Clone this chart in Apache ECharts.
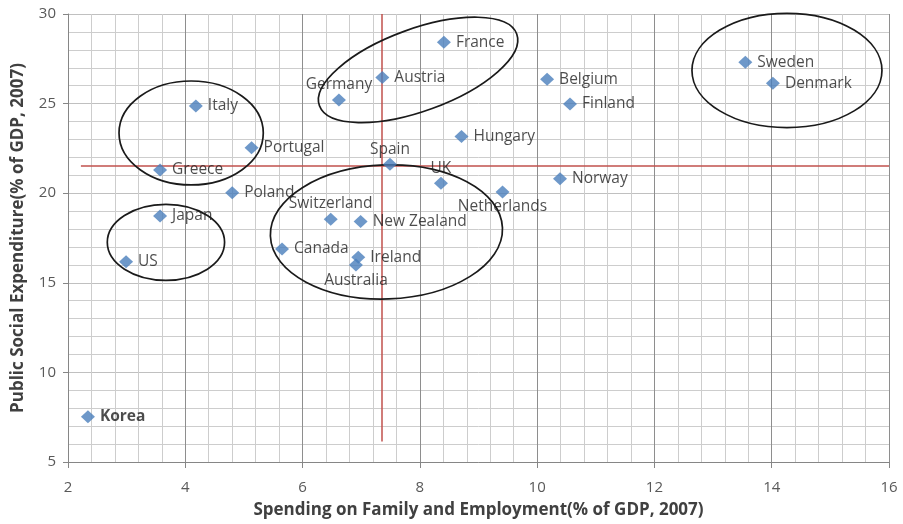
<!DOCTYPE html>
<html>
<head>
<meta charset="utf-8">
<script src="https://cdn.jsdelivr.net/npm/echarts@6/dist/echarts.min.js"></script>
<style>
html,body{margin:0;padding:0;background:#fff;}
#chart{width:903px;height:524px;}
</style>
</head>
<body>
<div id="chart"></div>
<script>
// ---- Data ----
const countries = ['Korea','US','Japan','Greece','Italy','Portugal','Poland','Germany','Austria','France','Belgium','Finland','Hungary','Spain','UK','Netherlands','Norway','Sweden','Denmark','Switzerland','New Zealand','Ireland','Australia','Canada'];
const familySpending = [2.34,2.99,3.57,3.57,4.18,5.13,4.80,6.62,7.36,8.41,10.17,10.56,8.71,7.49,8.36,9.41,10.39,13.55,14.02,6.48,6.99,6.95,6.91,5.65];
const socialExpenditure = [7.52,16.17,18.73,21.30,24.87,22.54,20.03,25.20,26.45,28.42,26.36,24.98,23.16,21.62,20.56,20.06,20.80,27.31,26.13,18.55,18.42,16.43,16.00,16.89];
const xTicks = [2,4,6,8,10,12,14,16];
const yTicks = [5,10,15,20,25,30];
// reference (average) lines
const refX = 7.35, refXFrom = 30, refXTo = 6.15;
const refY = 21.54, refYFrom = 2.22, refYTo = 16;
// ellipses: centre x, centre y, radius (x units), radius (y units), rotation deg
const ellipseCx = [4.10, 3.67, 7.97, 7.43, 14.26];
const ellipseCy = [23.36, 17.26, 26.88, 17.84, 26.85];
const ellipseRx = [1.23, 1.00, 1.79, 1.98, 1.62];
const ellipseRy = [2.90, 2.12, 2.29, 3.74, 3.19];
const ellipseRot = [0, 0, 20, 2, 0];

// ---- Label placement (style) ----
const labelPlace = {
  'Korea': {position:'right', offset:[0,0], bold:true},
  'US': {position:'right', offset:[0,0]},
  'Japan': {position:'right', offset:[-2,0]},
  'Greece': {position:'right', offset:[-6,-5]},
  'Italy': {position:'right', offset:[0,0]},
  'Portugal': {position:'right', offset:[-2,0]},
  'Poland': {position:'right', offset:[-2,-3]},
  'Germany': {position:'top', offset:[-27,0], distance:1},
  'Austria': {position:'right', offset:[-3,0]},
  'France': {position:'right', offset:[0,0]},
  'Belgium': {position:'right', offset:[-2,-4]},
  'Finland': {position:'right', offset:[0,0]},
  'Hungary': {position:'right', offset:[0,-2]},
  'Spain': {position:'top', offset:[15,0], distance:0},
  'UK': {position:'top', offset:[2,2], distance:0},
  'Netherlands': {position:'bottom', offset:[38,-3], distance:0},
  'Norway': {position:'right', offset:[0,-11]},
  'Sweden': {position:'right', offset:[0,-3]},
  'Denmark': {position:'right', offset:[-2,0]},
  'Switzerland': {position:'top', offset:[21,1], distance:1},
  'New Zealand': {position:'right', offset:[4,0]},
  'Ireland': {position:'right', offset:[-7,-7]},
  'Australia': {position:'bottom', offset:[-24,0], distance:1},
  'Canada': {position:'right', offset:[-4,0]}
};

const FONT = "'Open Sans', 'Noto Sans', sans-serif";

const scatterData = countries.map((c, i) => {
  const p = labelPlace[c] || {position:'right', offset:[0,0]};
  return {
    name: c,
    value: [familySpending[i], socialExpenditure[i]],
    label: {
      show: true,
      position: p.position,
      offset: p.offset,
      distance: p.distance != null ? p.distance : 5,
      fontWeight: p.bold ? 'bold' : 'normal'
    }
  };
});

const ellipseData = ellipseCx.map((x, i) => [x, ellipseCy[i], ellipseRx[i], ellipseRy[i], ellipseRot[i]]);

const chart = echarts.init(document.getElementById('chart'), null, {renderer:'canvas'});
chart.setOption({
  animation: false,
  backgroundColor: '#ffffff',
  grid: {left: 68, right: 14, top: 14, bottom: 61, containLabel: false},
  xAxis: {
    type: 'value', min: xTicks[0], max: xTicks[xTicks.length-1], interval: 2,
    name: 'Spending on Family and Employment(% of GDP, 2007)',
    nameLocation: 'middle', nameGap: 40,
    nameTextStyle: {fontFamily: FONT, fontWeight: 'bold', fontSize: 17, color: '#404040'},
    axisLine: {show: true, lineStyle: {color: '#868686', width: 1}},
    axisTick: {show: true, inside: false, length: 6, lineStyle: {color: '#868686'}},
    axisLabel: {fontFamily: FONT, fontSize: 15, color: '#595959', margin: 18},
    splitLine: {show: true, lineStyle: {color: '#8e8e8e', width: 1}},
    minorTick: {show: false, splitNumber: 5},
    minorSplitLine: {show: true, lineStyle: {color: '#cdcdcd', width: 1}}
  },
  yAxis: {
    type: 'value', min: yTicks[0], max: yTicks[yTicks.length-1], interval: 5,
    name: 'Public Social Expenditure(% of GDP, 2007)',
    nameLocation: 'middle', nameGap: 41, nameRotate: 90,
    nameTextStyle: {fontFamily: FONT, fontWeight: 'bold', fontSize: 17, color: '#404040'},
    axisLine: {show: true, lineStyle: {color: '#868686', width: 1}},
    axisTick: {show: true, inside: false, length: 5, lineStyle: {color: '#868686'}},
    axisLabel: {fontFamily: FONT, fontSize: 15, color: '#595959', margin: 12},
    splitLine: {show: true, lineStyle: {color: '#c0c0c0', width: 1}},
    minorTick: {show: false, splitNumber: 5},
    minorSplitLine: {show: true, lineStyle: {color: '#cdcdcd', width: 1}}
  },
  series: [
    {
      type: 'custom',
      coordinateSystem: 'cartesian2d',
      clip: false,
      silent: true,
      z: 3,
      data: ellipseData,
      renderItem: function (params, api) {
        const c = api.coord([api.value(0), api.value(1)]);
        const s = api.size([api.value(2), api.value(3)]);
        return {
          type: 'ellipse',
          x: c[0], y: c[1],
          rotation: api.value(4) * Math.PI / 180,
          shape: {cx: 0, cy: 0, rx: s[0], ry: s[1]},
          style: {fill: 'none', stroke: '#1a1a1a', lineWidth: 1.7}
        };
      }
    },
    {
      type: 'scatter',
      symbol: 'diamond',
      symbolSize: [14, 13],
      z: 5,
      itemStyle: {color: '#4a7ebb'},
      label: {
        show: true,
        formatter: '{b}',
        fontFamily: FONT,
        fontSize: 15.5,
        color: '#1f1f1f'
      },
      labelLayout: {hideOverlap: false},
      data: scatterData,
      markLine: {
        silent: true,
        symbol: 'none',
        label: {show: false},
        lineStyle: {color: '#c0504d', width: 1.5, type: 'solid'},
        z: 2,
        data: [
          [{coord: [refX, refXFrom]}, {coord: [refX, refXTo]}],
          [{coord: [refYFrom, refY]}, {coord: [refYTo, refY]}]
        ]
      }
    }
  ]
});
</script>
</body>
</html>
